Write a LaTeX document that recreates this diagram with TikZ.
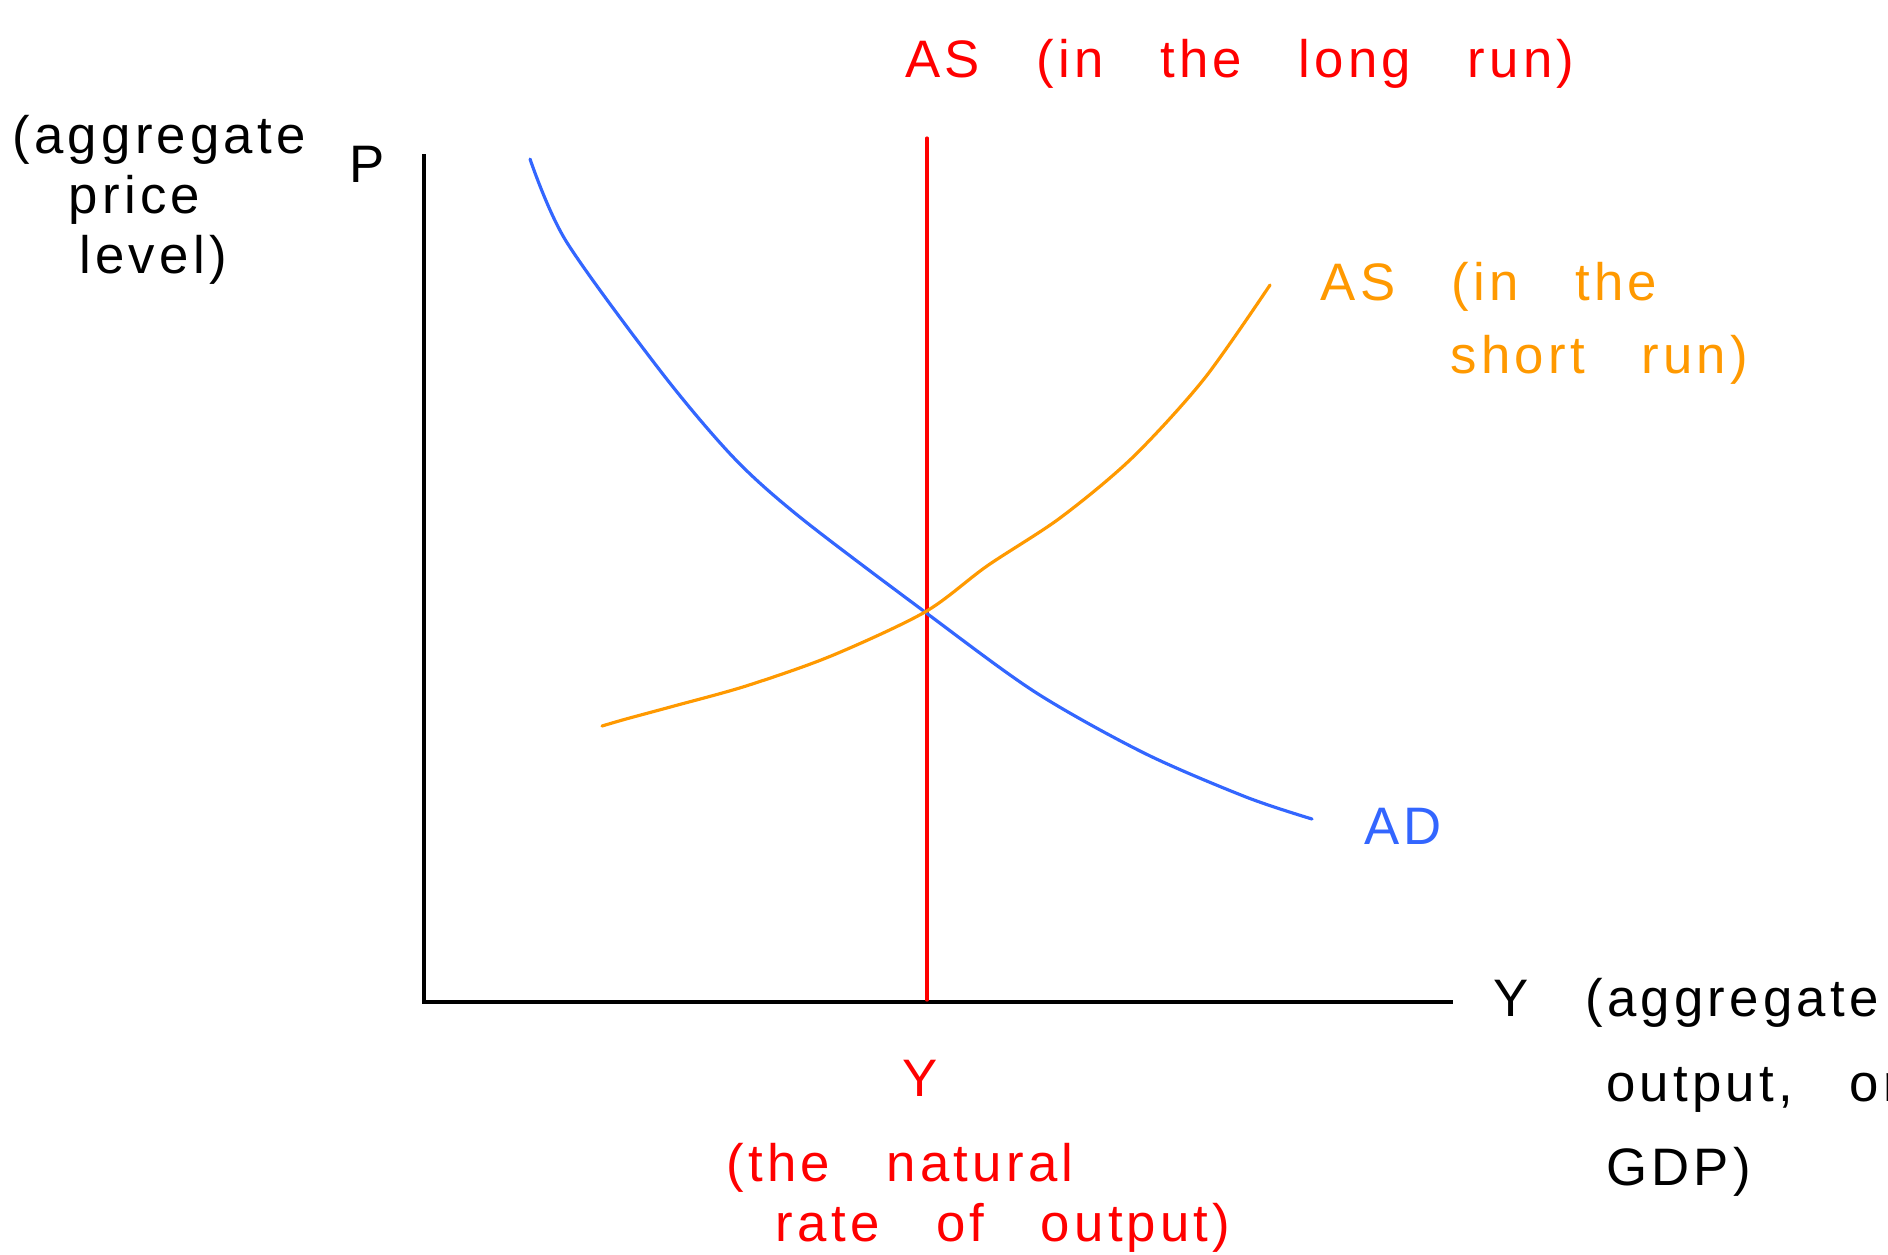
\documentclass[tikz,border=0pt]{standalone}
\usepackage{fontspec}
\setmainfont[LetterSpace=8,WordSpace=3]{Liberation Sans}
\definecolor{adblue}{RGB}{51,102,255}
\definecolor{srorange}{RGB}{255,153,0}
\definecolor{lrred}{RGB}{255,0,0}
\tikzset{
  hand/.style={font=\fontsize{15}{17}\selectfont, inner sep=0pt},
  curve/.style={line width=0.9pt, line join=round, line cap=round},
}

\begin{document}
\begin{tikzpicture}[x=0.01cm,y=-0.01cm]
  \useasboundingbox (0,0) rectangle (1888,1254);
  \coordinate (O) at (424,1002); \coordinate (Ptop) at (424,154); \coordinate (Yend) at (1453,1002);
  \coordinate (Ltop) at (927,138); \coordinate (Lbot) at (927,1000);
  % axes
  \draw[line width=1pt] (Ptop) -- (O) -- (Yend);
  % long run AS
  \draw[curve,lrred] (Ltop) -- (Lbot);
  % aggregate demand
  \draw[curve,adblue] plot[smooth,tension=0.5] coordinates {(530,159) (566,241) (662,373) (734,458)
       (801,518) (925,612) (1035,692) (1144,753) (1246,797) (1312,819)};
  % short run AS
  \draw[curve,srorange] plot[smooth,tension=0.5] coordinates {(602,726) (626,719) (674,706) (746,686)
       (831,656) (925,612) (987,566) (1060,518) (1132,458) (1204,379) (1270,285)};
  % labels
  \node[hand] (p) at (367,164) {P};
  \node[hand,align=left,anchor=north west,font=\fontsize{15}{17}\selectfont] (plab) at (12,115)
       {(aggregate\\\hspace*{16pt}price\\\hspace*{19pt}level)};
  \node[hand,lrred] (lr) at (1240,64) {AS (in the long run)};
  \node[hand,srorange,align=left,anchor=north west,font=\fontsize{15}{20.5}\selectfont] (sr) at (1320,262)
       {AS (in the\\\hspace*{37pt}short run)};
  \node[hand,adblue] (ad) at (1403,826) {AD};
  \node[hand,lrred] (ystar) at (920,1078) {Y};
  \node[hand,lrred,align=left,anchor=north west,font=\fontsize{15}{17}\selectfont] (nat) at (726,1143)
       {(the natural\\\hspace*{14pt}rate of output)};
  \node[hand,align=left,anchor=north west,font=\fontsize{15}{24}\selectfont] (ylab) at (1493,978)
       {Y (aggregate\\\hspace*{32pt}output, or\\\hspace*{32pt}GDP)};
\end{tikzpicture}
\end{document}
